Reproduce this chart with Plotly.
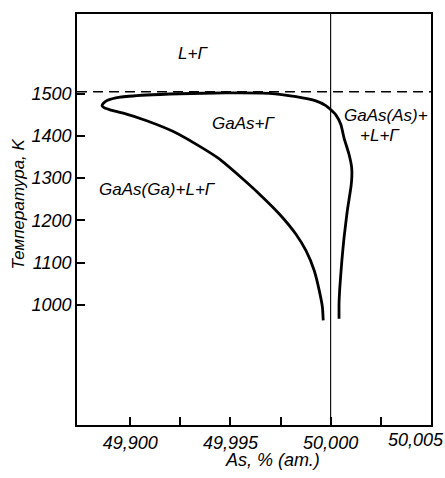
import plotly.graph_objects as go

# Phase boundary of GaAs near stoichiometry (one continuous curve:
# Ga-rich branch -> nose -> top -> As-rich branch)
curve_as = [49.99963, 49.99959, 49.99943, 49.99918, 49.99877, 49.99827, 49.99744,
            49.99645, 49.99545, 49.99446, 49.99330, 49.99212, 49.99082, 49.98965,
            49.98899, 49.98869, 49.98859, 49.98867, 49.98884, 49.98949, 49.99082,
            49.99247, 49.99479, 49.99694, 49.99827, 49.99926, 49.99976, 50.00001,
            50.00026, 50.00051, 50.00067, 50.00092, 50.00105, 50.00106, 50.00102,
            50.00083, 50.00067, 50.00056, 50.00046, 50.00042, 50.00042]
curve_t = [963, 994, 1034, 1081, 1128, 1167, 1215,
           1262, 1305, 1345, 1380, 1411, 1436, 1454,
           1462, 1467, 1472, 1478, 1484, 1492, 1497,
           1500, 1502, 1501, 1493, 1483, 1472, 1462,
           1450, 1427, 1395, 1356, 1325, 1305, 1281,
           1222, 1159, 1104, 1042, 1002, 967]

melting_t = 1505          # dashed isotherm
stoich_as = 50.000        # vertical line at stoichiometric composition

x_range = [49.98734, 50.00501]
y_range = [715, 1689]

x_tickvals = [49.990, 49.9925, 49.995, 49.9975, 50.000, 50.0025, 50.005]
x_ticktext = ["49,900", "", "49,995", "", "50,000", "", ""]
x_last_label = "50,005"
y_tickvals = [1000, 1100, 1200, 1300, 1400, 1500]
y_ticktext = ["1000", "1100", "1200", "1300", "1400", "1500"]

region_labels = ["L+Г", "GaAs+Г", "GaAs(Ga)+L+Г", "GaAs(As)+", "+L+Г"]
region_as = [49.99312, 49.99565, 49.99135, 50.00278, 50.00246]
region_t = [1595, 1429, 1274, 1449, 1402]

FONT = "Liberation Sans Narrow, Liberation Sans, Arial, sans-serif"

fig = go.Figure()

fig.add_trace(go.Scatter(
    x=curve_as, y=curve_t, mode="lines",
    line=dict(color="black", width=2.8, shape="spline", smoothing=0.5),
    hoverinfo="skip", showlegend=False,
))

fig.add_shape(type="line", xref="paper", x0=0, x1=1, yref="y",
              y0=melting_t, y1=melting_t,
              line=dict(color="black", width=1.5, dash="10px,6px"))
fig.add_shape(type="line", xref="x", x0=stoich_as, x1=stoich_as, yref="paper",
              y0=0, y1=1, line=dict(color="black", width=1.1))

for txt, xv, yv in zip(region_labels, region_as, region_t):
    fig.add_annotation(x=xv, y=yv, text=txt, showarrow=False,
                       xanchor="center", yanchor="middle",
                       font=dict(family=FONT, size=17, color="black", style="italic"))

fig.add_annotation(x=x_range[1], y=0, xref="x", yref="paper", yanchor="top",
                   text=x_last_label, showarrow=False, xanchor="center", xshift=-15,
                   yshift=-3,
                   font=dict(family=FONT, size=18, color="black", style="italic"))

fig.add_annotation(x=0.551, y=-0.055, xref="paper", yref="paper", yanchor="top",
                   text="As, % (ат.)", showarrow=False,
                   font=dict(family=FONT, size=18, color="black", style="italic"))

fig.add_annotation(x=-0.166, y=0.537, xref="paper", yref="paper", textangle=-90,
                   text="Температура, K", showarrow=False,
                   xanchor="center", yanchor="middle",
                   font=dict(family=FONT, size=17, color="black", style="italic"))

axis_common = dict(showgrid=False, zeroline=False, showline=True, mirror=True,
                   linecolor="black", linewidth=1.8, ticks="inside", ticklen=8,
                   tickwidth=1.5, tickcolor="black",
                   tickfont=dict(family=FONT, size=18, color="black", style="italic"))

fig.update_xaxes(range=x_range, tickmode="array", tickvals=x_tickvals,
                 ticktext=x_ticktext, **axis_common)
fig.update_yaxes(range=y_range, tickmode="array", tickvals=y_tickvals,
                 ticktext=y_ticktext, **axis_common)

fig.update_layout(
    width=445, height=478,
    margin=dict(l=77, r=12.5, t=12, b=53),
    paper_bgcolor="white", plot_bgcolor="white",
    showlegend=False,
)

fig.write_html("out.html")
